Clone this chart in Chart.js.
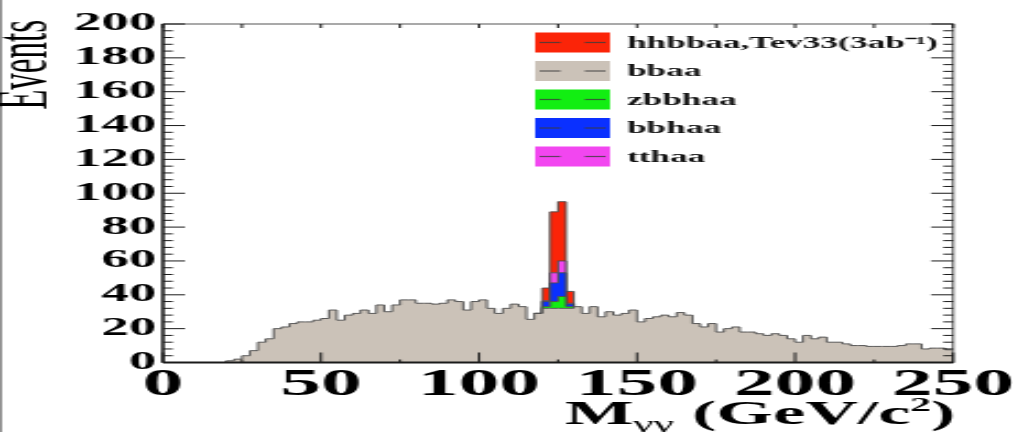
<!DOCTYPE html>
<html>
<head>
<meta charset="utf-8">
<script src="https://cdn.jsdelivr.net/npm/chart.js@4.4.1/dist/chart.umd.min.js"></script>
<style>
  html, body { margin: 0; padding: 0; background: #fff; overflow: hidden; }
  canvas { display: block; }
</style>
</head>
<body>
<!-- drawn on a narrow canvas and stretched sideways, like the exported plot -->
<canvas id="myChart" width="460" height="432" style="width:1013px;height:432px"></canvas>
<script>
// 100 bins of 2.5 GeV from 0 to 250
var binWidth = 2.5;
var bbaa = [
  0, 0, 0, 0, 0, 0, 0, 0, 1, 2,
  4, 7, 12, 14, 20, 21, 23, 24, 24, 25,
  26, 31, 25, 28, 29, 31, 29, 34, 30, 34,
  37, 37, 35, 35, 34.5, 35, 37, 36, 31, 36,
  37, 32, 29, 32, 34.5, 33, 25.5, 29, 32, 32,
  32, 32, 33, 29, 33, 27, 30, 28, 29, 31,
  24, 26, 27, 28, 27, 29.5, 28, 23, 21, 23,
  18, 20, 21, 18, 18, 17, 16, 17, 16, 14,
  12, 16, 14, 15, 12, 12, 11, 10, 10, 9.5,
  9.5, 9.5, 9.5, 10, 11, 11, 8, 8.5, 8.5, 7.5
];

// signal samples only fill the four bins from 120 to 130 GeV
var peakStart = 120;
var zbbhaa = [1, 4, 7, 1];
var bbhaa = [3, 11, 14, 1.5];
var tthaa = [0.5, 6, 7, 0.5];
var hhbbaa = [7.5, 36, 35, 7];

var xTicks = [0, 50, 100, 150, 200, 250];
var yTicks = [0, 20, 40, 60, 80, 100, 120, 140, 160, 180, 200];

var labels = ["bbaa", "zbbhaa", "bbhaa", "tthaa", "hhbbaa,Tev33(3ab\u207B\u00B9)"];
var colors = ["#cbc2b8", "#12ee12", "#0a30ff", "#f246f0", "#fb2408"];
var legendOrder = [4, 0, 1, 2, 3];

function padPeak(vals) {
  var out = bbaa.map(function () { return 0; });
  var first = Math.round(peakStart / binWidth);
  vals.forEach(function (v, i) { out[first + i] = v; });
  return out;
}

// points on the left bin edges, plus the closing edge at 250
function toSteps(vals) {
  var pts = vals.map(function (v, i) { return { x: i * binWidth, y: v }; });
  pts.push({ x: vals.length * binWidth, y: vals[vals.length - 1] });
  return pts;
}

var series = [bbaa, padPeak(zbbhaa), padPeak(bbhaa), padPeak(tthaa), padPeak(hhbbaa)];

var datasets = series.map(function (vals, i) {
  return {
    label: labels[i],
    data: toSteps(vals),
    stepped: true,
    fill: i === 0 ? "origin" : "-1",
    backgroundColor: colors[i],
    borderColor: "#4a4a4a",
    borderWidth: 0.9,
    pointRadius: 0,
    segment: i === 0 ? undefined : {
      borderColor: function (ctx) {
        var a = vals[ctx.p0DataIndex] || 0, b = vals[ctx.p1DataIndex] || 0;
        return a === 0 && b === 0 ? "rgba(0,0,0,0)" : undefined;
      }
    }
  };
});

var serif = "'Liberation Serif', 'Times New Roman', serif";

function line(ctx, x1, y1, x2, y2) {
  ctx.beginPath();
  ctx.moveTo(x1, y1);
  ctx.lineTo(x2, y2);
  ctx.stroke();
}

var rootFrame = {
  id: "rootFrame",
  afterDatasetsDraw: function (chart) {
    var ctx = chart.ctx, a = chart.chartArea;
    var xs = chart.scales.x, ys = chart.scales.y;
    ctx.save();
    ctx.strokeStyle = "#555";
    ctx.lineWidth = 1;
    ctx.strokeRect(a.left, a.top, a.right - a.left, a.bottom - a.top);
    ctx.strokeStyle = "#1a1a1a";
    ctx.lineWidth = 1.3;
    line(ctx, a.left, a.top, a.left, a.bottom);
    ctx.lineWidth = 2;
    line(ctx, a.left, a.bottom, a.right, a.bottom);
    ctx.lineWidth = 1;
    for (var v = 0; v <= 200; v += 4) {
      var y = ys.getPixelForValue(v);
      var len = v % 20 === 0 ? 10 : 4.5;
      line(ctx, a.left, y, a.left + len, y);
      line(ctx, a.right, y, a.right - len, y);
    }
    for (var g = 0; g <= 250; g += 25) {
      var x = xs.getPixelForValue(g);
      line(ctx, x, a.bottom, x, a.bottom - (g % 50 === 0 ? 10 : 3));
      line(ctx, x, a.top, x, a.top + 4);
    }
    ctx.restore();
  },
  afterDraw: function (chart) {
    var ctx = chart.ctx, a = chart.chartArea;
    ctx.save();
    ctx.fillStyle = "#777";
    ctx.fillRect(0, 0, 0.8, chart.height);

    // legend
    legendOrder.forEach(function (di, row) {
      var ds = chart.data.datasets[di];
      var cy = 42.5 + row * 28.5;
      ctx.fillStyle = ds.backgroundColor;
      ctx.fillRect(243, cy - 10, 34, 20);
      ctx.strokeStyle = "rgba(60,60,60,0.8)";
      ctx.lineWidth = 1.2;
      line(ctx, 245, cy, 254.5, cy);
      line(ctx, 265.5, cy, 275, cy);
      ctx.fillStyle = "#111";
      ctx.font = "bold 16px " + serif;
      ctx.textAlign = "left";
      ctx.textBaseline = "middle";
      ctx.fillText(ds.label, 284.7, cy + 1);
    });

    // y title
    ctx.fillStyle = "#000";
    ctx.font = "33px " + serif;
    ctx.translate(12, 20);
    ctx.rotate(-Math.PI / 2);
    ctx.textAlign = "right";
    ctx.textBaseline = "middle";
    ctx.fillText("Events", 0, 0);
    ctx.setTransform(1, 0, 0, 1, 0, 0);

    // x title: M_{γγ} (GeV/c^{2})
    var parts = [
      { t: "M", f: "bold 33px ", dy: 0 },
      { t: "\u03B3\u03B3", f: "21px ", dy: 7 },
      { t: " (GeV/c", f: "bold 33px ", dy: 0 },
      { t: "2", f: "bold 19px ", dy: -13 },
      { t: ")", f: "bold 33px ", dy: 0 }
    ];
    var total = 0;
    parts.forEach(function (p) { ctx.font = p.f + serif; p.w = ctx.measureText(p.t).width; total += p.w; });
    var x = a.right + 1 - total, base = 424;
    ctx.textAlign = "left";
    ctx.textBaseline = "alphabetic";
    parts.forEach(function (p) {
      ctx.font = p.f + serif;
      ctx.fillText(p.t, x, base + p.dy);
      x += p.w;
    });
    ctx.restore();
  }
};

new Chart("myChart", {
  type: "line",
  data: { datasets: datasets },
  options: {
    responsive: false,
    animation: false,
    devicePixelRatio: 1,
    layout: { padding: { top: 24, right: 27.2, left: 0, bottom: 0 } },
    plugins: { legend: { display: false }, tooltip: { enabled: false } },
    scales: {
      x: {
        type: "linear",
        min: 0,
        max: 250,
        grid: { display: false, drawTicks: false },
        border: { display: false },
        afterBuildTicks: function (s) { s.ticks = xTicks.map(function (v) { return { value: v }; }); },
        afterFit: function (s) { s.height = 69.5; s.paddingLeft = 0; s.paddingRight = 0; },
        ticks: {
          autoSkip: false,
          maxRotation: 0,
          padding: 1,
          color: "#000",
          font: { family: serif, weight: "bold", size: 37 }
        }
      },
      y: {
        min: 0,
        max: 200,
        stacked: true,
        grid: { display: false, drawTicks: false },
        border: { display: false },
        afterBuildTicks: function (s) { s.ticks = yTicks.map(function (v) { return { value: v }; }); },
        afterFit: function (s) { s.width = 74; s.paddingTop = 0; s.paddingBottom = 0; },
        ticks: {
          padding: 3,
          color: "#000",
          font: { family: serif, weight: "bold", size: 25 }
        }
      }
    }
  },
  plugins: [rootFrame]
});
</script>
</body>
</html>
